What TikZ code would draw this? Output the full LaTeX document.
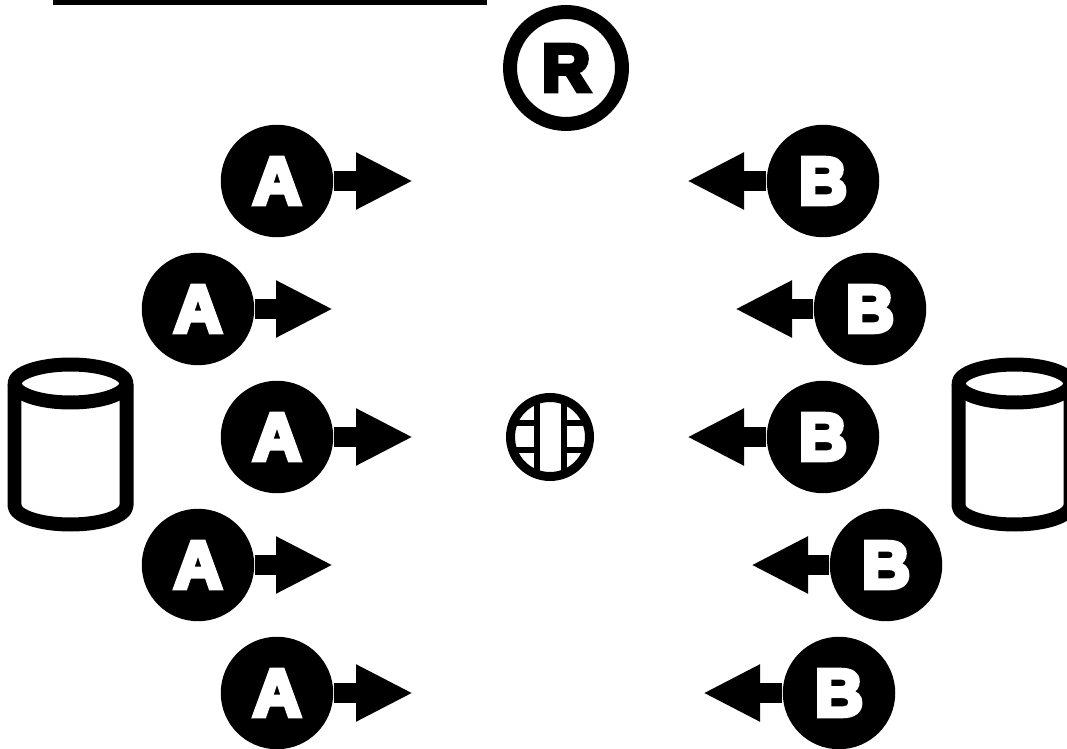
\documentclass[tikz,border=0pt]{standalone}
\usepackage{fontspec}
\setmainfont{Liberation Sans}
\newfontfamily\heavyfont[FakeBold=7]{Liberation Sans Bold}
\usetikzlibrary{arrows.meta}
\tikzset{
  peer/.style={circle, fill=black, text=white, inner sep=0, minimum size=2.25cm, font=\heavyfont\fontsize{38}{38}\selectfont},
  flow/.style={line width=0.39cm, -{Triangle[length=1.14cm,width=1.06cm]}},
  store/.style={line width=0.28cm, line join=round},
  relay/.style={circle, draw, line width=0.28cm, inner sep=0, minimum size=2.24cm, font=\heavyfont\fontsize{38}{38}\selectfont}
}

\begin{document}
\begin{tikzpicture}[x=0.02cm, y=-0.02cm]
\clip (0,0) rectangle (1067,749);
% top bar
\coordinate (barl) at (53,2.5);
\coordinate (barr) at (487,2.5);
\draw[line width=0.1cm] (barl) -- (barr);
\node[relay] (r) at (566,68) {R};
% left side
\node[peer] (a1) at (277,181) {A};
\node[peer] (a2) at (198,309) {A};
\node[peer] (a3) at (277,437) {A};
\node[peer] (a4) at (198,565) {A};
\node[peer] (a5) at (277,693) {A};
\coordinate (a1tip) at (413,181);
\coordinate (a2tip) at (333,309);
\coordinate (a3tip) at (413,437);
\coordinate (a4tip) at (333,565);
\coordinate (a5tip) at (413,693);
\draw[flow] (a1) -- (a1tip);
\draw[flow] (a2) -- (a2tip);
\draw[flow] (a3) -- (a3tip);
\draw[flow] (a4) -- (a4tip);
\draw[flow] (a5) -- (a5tip);
% right side
\node[peer] (b1) at (823,181) {B};
\node[peer] (b2) at (870,309) {B};
\node[peer] (b3) at (823,437) {B};
\node[peer] (b4) at (886,565) {B};
\node[peer] (b5) at (839,693) {B};
\coordinate (b1tip) at (687,181);
\coordinate (b2tip) at (735,309);
\coordinate (b3tip) at (687,437);
\coordinate (b4tip) at (751,565);
\coordinate (b5tip) at (703,693);
\draw[flow] (b1) -- (b1tip);
\draw[flow] (b2) -- (b2tip);
\draw[flow] (b3) -- (b3tip);
\draw[flow] (b4) -- (b4tip);
\draw[flow] (b5) -- (b5tip);
% stores
\draw[store] (70.5,383.5) ellipse [x radius=56, y radius=19];
\draw[store] (14.5,383.5) -- (14.5,505.5) arc [start angle=180, end angle=0, x radius=56, y radius=19] -- (126.5,383.5);
\draw[store] (1014.5,383.5) ellipse [x radius=56, y radius=19];
\draw[store] (958.5,383.5) -- (958.5,505.5) arc [start angle=180, end angle=0, x radius=56, y radius=19] -- (1070.5,383.5);
% globe
\begin{scope}
\clip (550,437) circle (41);
\draw[line width=0.11cm] (537,390) -- (537,485);
\draw[line width=0.11cm] (564,390) -- (564,485);
\draw[line width=0.11cm] (500,423) -- (537,423);
\draw[line width=0.11cm] (500,450) -- (537,450);
\draw[line width=0.11cm] (564,423) -- (600,423);
\draw[line width=0.11cm] (564,450) -- (600,450);
\end{scope}
\draw[line width=0.18cm] (550,437) circle (39.5);
\end{tikzpicture}
\end{document}
